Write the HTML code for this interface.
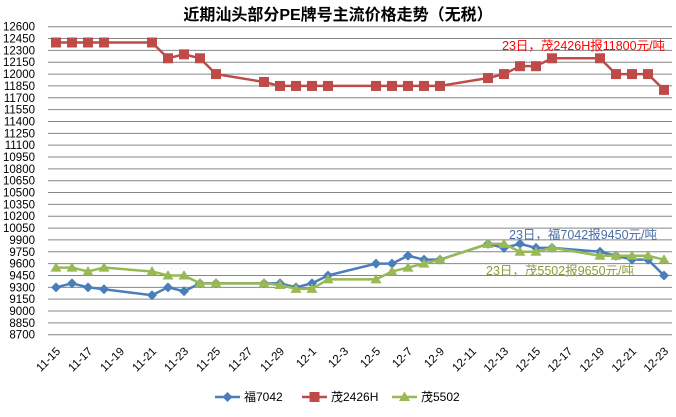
<!DOCTYPE html>
<html><head><meta charset="utf-8"><style>
body{margin:0;background:#fff;font-family:"Liberation Sans","Noto Sans CJK SC",sans-serif;}
svg text{font-family:"Liberation Sans","Noto Sans CJK SC",sans-serif;}
</style></head><body>
<svg id="chart" width="676" height="412" viewBox="0 0 676 412" xmlns="http://www.w3.org/2000/svg">
<rect width="676" height="412" fill="#fff"/>
<text x="338" y="20" text-anchor="middle" font-size="16" font-weight="bold" fill="#000">近期汕头部分PE牌号主流价格走势（无税）</text>
<g id="grid"></g><g id="ylabels"></g><g id="xlabels"></g><g id="series"></g>
<text x="502" y="50" font-size="12.5" fill="#ff0000">23日，茂2426H报11800元/吨</text>
<text x="509" y="239" font-size="12.5" fill="#4a6ea8">23日，福7042报9450元/吨</text>
<text x="486" y="275" font-size="12.5" fill="#8a9a3a">23日，茂5502报9650元/吨</text>
<g id="legend"></g>
</svg>
<script>
const dates=["11-15","11-16","11-17","11-18","11-21","11-22","11-23","11-24","11-25","11-28","11-29","11-30","12-1","12-2","12-5","12-6","12-7","12-8","12-9","12-12","12-13","12-14","12-15","12-16","12-19","12-20","12-21","12-22","12-23"];
const dayIndex=[0,1,2,3,6,7,8,9,10,13,14,15,16,17,20,21,22,23,24,27,28,29,30,31,34,35,36,37,38];
const fu7042=[9300,9350,9300,9275,9200,9300,9250,9350,9350,9350,9350,9300,9350,9450,9600,9600,9700,9650,9650,9850,9800,9850,9800,9800,9750,9700,9650,9650,9450];
const mao2426H=[12400,12400,12400,12400,12400,12200,12250,12200,12000,11900,11850,11850,11850,11850,11850,11850,11850,11850,11850,11950,12000,12100,12100,12200,12200,12000,12000,12000,11800];
const mao5502=[9550,9550,9500,9550,9500,9450,9450,9350,9350,9350,9330,9280,9280,9400,9400,9500,9550,9600,9650,9850,9850,9750,9750,9800,9700,9700,9700,9700,9650];
const xLabels=["11-15","11-17","11-19","11-21","11-23","11-25","11-27","11-29","12-1","12-3","12-5","12-7","12-9","12-11","12-13","12-15","12-17","12-19","12-21","12-23"];
const xLabelDays=[0,2,4,6,8,10,12,14,16,18,20,22,24,26,28,30,32,34,36,38];
const yMin=8700,yMax=12600,yStep=150;
const NS="http://www.w3.org/2000/svg";
const X0=48,X1=672,TOP=26.7,BOT=334.7;
const xs=d=>56+d*16;
const ys=v=>BOT-(v-yMin)/(yMax-yMin)*(BOT-TOP);
function mk(tag,attrs,parent){const e=document.createElementNS(NS,tag);for(const k in attrs)e.setAttribute(k,attrs[k]);parent.appendChild(e);return e;}
const grid=document.getElementById('grid'),yl=document.getElementById('ylabels'),xl=document.getElementById('xlabels'),sg=document.getElementById('series'),lg=document.getElementById('legend');
for(let v=yMin;v<=yMax;v+=yStep){
 const l=mk('line',{x1:X0,x2:X1,y1:ys(v),y2:ys(v),stroke:'#868686','stroke-width':1},grid);
 
 
 const t=mk('text',{x:35,y:ys(v)+4,'text-anchor':'end','font-size':11.5,fill:'#000'},yl);
 t.textContent=v;
 
 
}
xLabels.forEach((s,i)=>{
 const x=xs(xLabelDays[i])+5,y=352;
 const t=mk('text',{x:x,y:y,'text-anchor':'end','font-size':11.5,fill:'#000',transform:`rotate(-45 ${x} ${y})`},xl);
 t.textContent=s;
 
 
});
function marker(type,x,y,color,parent){
 let m;
 if(type==='diamond')m=mk('polygon',{points:`${x},${y-5} ${x+5},${y} ${x},${y+5} ${x-5},${y}`,fill:color},parent);
 else if(type==='square')m=mk('rect',{x:x-5,y:y-5,width:10,height:10,fill:color},parent);
 else m=mk('polygon',{points:`${x},${y-5.5} ${x+5.5},${y+4} ${x-5.5},${y+4}`,fill:color},parent);
 return m;
}
const series=[{name:'福7042',data:fu7042,color:'#4a7ebb',m:'diamond',id:'fu7042'},{name:'茂2426H',data:mao2426H,color:'#be4b48',m:'square',id:'mao2426h'},{name:'茂5502',data:mao5502,color:'#98b954',m:'triangle',id:'mao5502'}];
series.forEach(s=>{
 const g=mk('g',{},sg);
 
 
 const pts=s.data.map((v,i)=>xs(dayIndex[i])+','+ys(v)).join(' ');
 const pl=mk('polyline',{points:pts,fill:'none',stroke:s.color,'stroke-width':2.5},g);
 
 
 s.data.forEach((v,i)=>{
  const m=marker(s.m,xs(dayIndex[i]),ys(v),s.color,g);
  
  
 });
});
const lx=[215,302,392];
series.forEach((s,i)=>{
 const g=mk('g',{},lg);
 
 
 mk('line',{x1:lx[i],x2:lx[i]+25,y1:397,y2:397,stroke:s.color,'stroke-width':2.5},g);
 marker(s.m,lx[i]+12.5,397,s.color,g);
 const t=mk('text',{x:lx[i]+29,y:401,'font-size':12,fill:'#000'},g);
 t.textContent=s.name;
});
</script>
</body></html>
